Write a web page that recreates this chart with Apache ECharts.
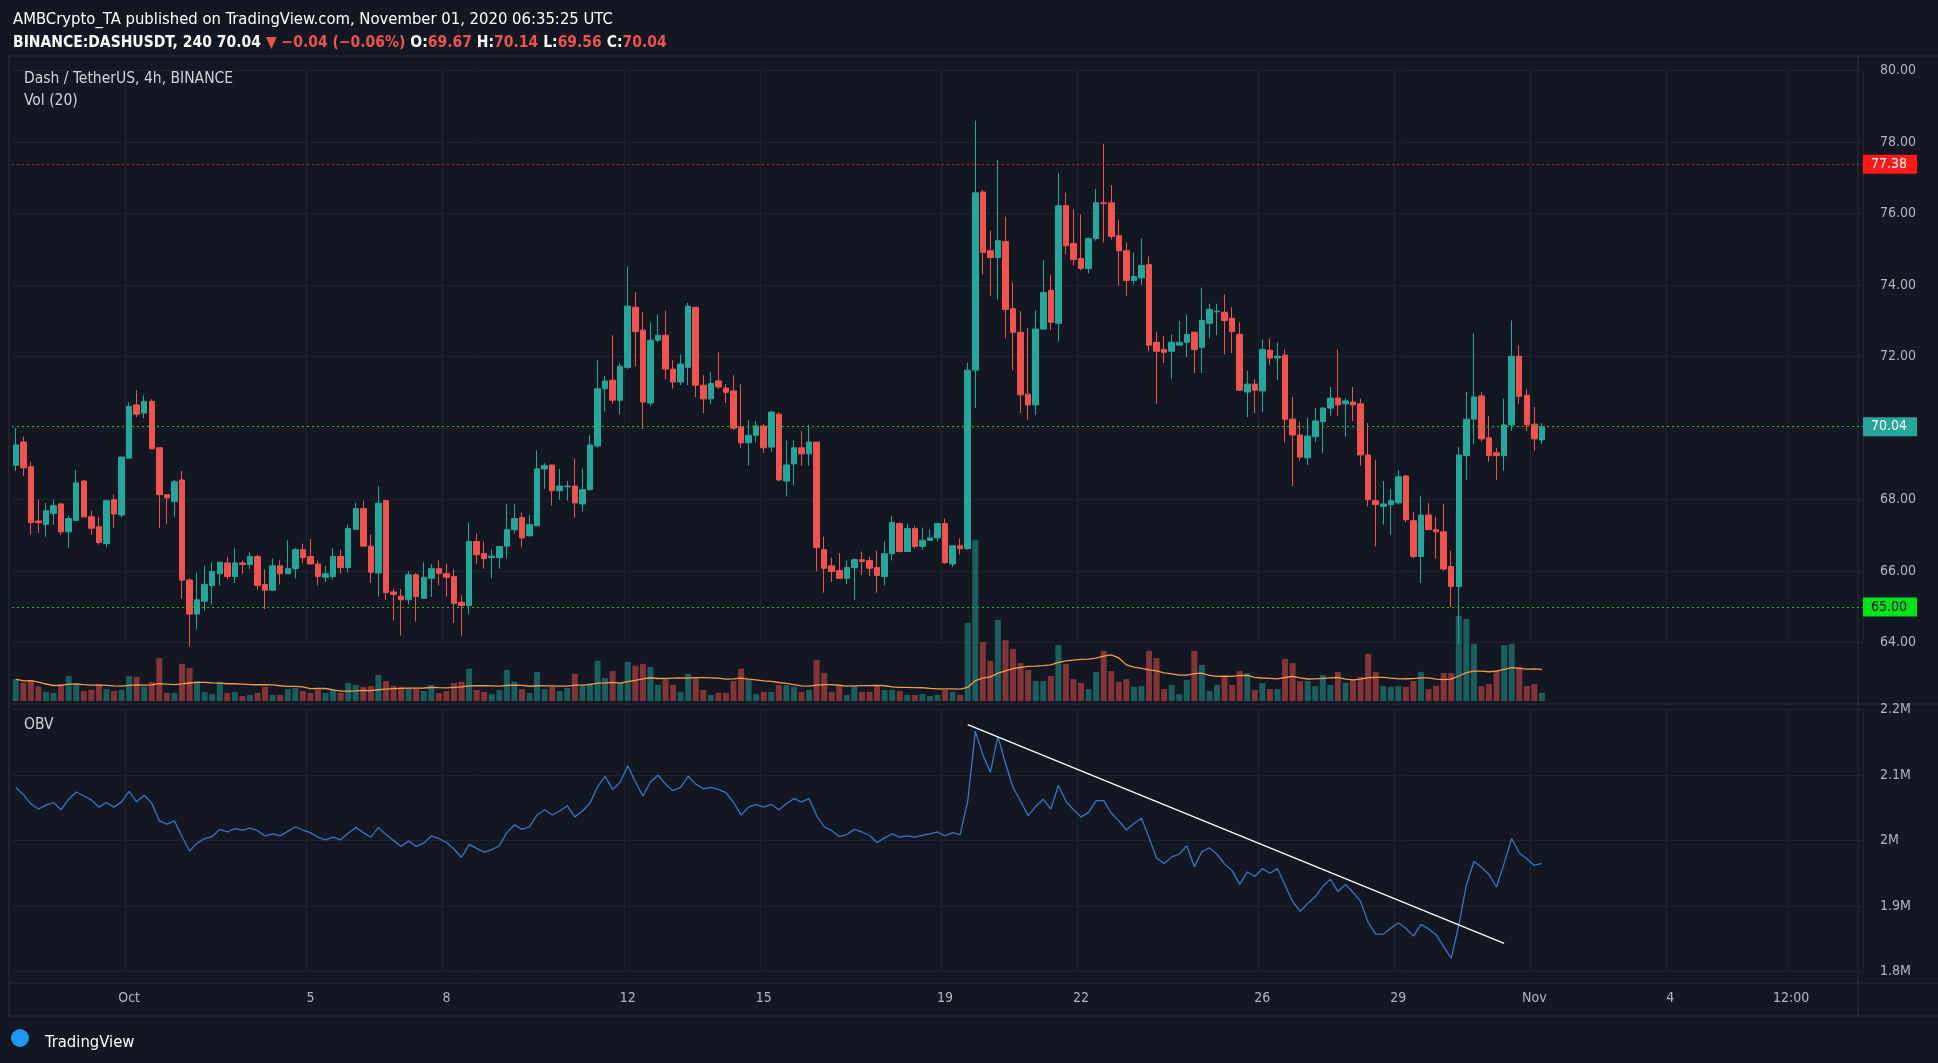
<!DOCTYPE html>
<html><head><meta charset="utf-8">
<script src="https://cdn.jsdelivr.net/npm/echarts@6/dist/echarts.min.js"></script>
<style>html,body{margin:0;padding:0;background:#131722;}#c{width:1938px;height:1063px;}</style>
</head><body><div id="c"></div>
<script>
// [open, close, low, high]
const candles = [
[68.96,69.53,68.8,70.0],[69.61,68.89,68.66,69.76],[68.92,67.36,67.02,69.06],[67.4,67.36,67.07,68.0],[67.31,67.69,66.96,67.91],
[67.61,67.83,67.29,68.0],[67.88,67.1,67.02,67.91],[67.1,67.47,66.65,67.55],[67.42,68.47,67.42,68.83],[68.52,67.52,67.5,68.55],
[67.52,67.2,67.02,67.69],[67.24,66.8,66.74,67.52],[66.77,67.97,66.67,68.0],[68.0,67.6,67.2,68.14],[67.57,69.19,67.5,69.19],
[69.16,70.61,69.16,70.72],[70.65,70.39,70.31,71.06],[70.42,70.75,70.28,70.92],[70.75,69.42,69.42,70.81],[69.45,68.14,67.2,69.45],
[68.14,68.05,67.33,68.14],[67.95,68.5,67.52,68.55],[68.55,65.75,65.23,68.8],[65.75,64.8,63.9,65.8],[64.8,65.2,64.38,65.96],
[65.16,65.63,64.89,66.15],[65.6,65.99,65.07,66.25],[65.93,66.25,65.6,66.25],[66.23,65.85,65.77,66.4],[65.85,66.23,65.67,66.63],
[66.23,66.19,65.93,66.3],[66.19,66.41,66.05,66.52],[66.41,65.6,65.47,66.46],[65.63,65.47,64.94,66.05],[65.47,66.15,65.47,66.35],
[66.15,65.93,65.63,66.3],[65.93,66.07,65.93,66.86],[66.07,66.6,65.8,66.65],[66.6,66.38,66.23,66.77],[66.41,66.2,66.2,66.9],
[66.2,65.85,65.6,66.3],[65.83,65.93,65.7,66.15],[65.85,66.41,65.77,66.65],[66.41,66.1,65.93,66.6],[66.1,67.19,65.97,67.3],
[67.17,67.75,67.17,67.91],[67.75,66.7,66.7,67.97],[66.7,65.97,65.67,67.02],[65.95,67.9,65.3,68.38],[67.97,65.4,65.2,68.0],
[65.42,65.35,64.62,65.5],[65.3,65.2,64.2,65.5],
[65.2,65.9,65.07,66.0],[65.9,65.29,64.6,65.95],[65.24,65.83,65.24,66.25],[65.8,66.07,65.28,66.2],[66.07,65.94,65.6,66.3],
[65.93,65.83,65.29,66.2],[65.85,65.1,64.55,66.05],[65.13,65.04,64.2,65.33],[65.04,66.83,64.8,67.36],[66.83,66.46,66.2,67.05],
[66.49,66.35,66.07,66.83],[66.38,66.42,65.8,66.6],[66.38,66.69,66.07,66.69],[66.7,67.16,66.36,67.87],[67.16,67.47,67.05,67.87],
[67.5,66.93,66.67,67.64],[66.99,67.3,66.96,67.57],[67.27,68.86,67.27,69.37],[68.86,68.95,68.3,69.02],[68.97,68.25,67.83,68.97],
[68.25,68.38,68.0,68.86],[68.36,68.38,67.97,68.52],[68.38,67.91,67.5,69.14],[67.88,68.28,67.66,68.86],[68.28,69.53,68.25,69.8],
[69.5,71.1,69.46,71.9],[71.1,71.32,70.47,71.46],[71.34,70.78,70.68,72.6],[70.78,71.73,70.39,71.82],[71.7,73.41,71.65,74.52],
[73.38,72.7,71.73,73.8],[72.74,70.73,69.97,73.24],[70.7,72.46,70.61,72.96],[72.46,72.6,72.4,73.18],[72.6,71.65,71.37,73.29],
[71.65,71.29,71.1,71.9],[71.29,71.79,71.2,72.06],[71.7,73.41,71.2,73.5],[73.38,71.2,70.87,73.38],[71.2,70.82,70.42,71.48],
[70.82,71.25,70.68,71.56],[71.32,71.15,71.1,72.12],[71.12,71.0,70.7,71.23],[71.04,70.0,69.95,71.48],[70.03,69.59,69.45,71.23],
[69.59,69.8,68.95,70.23],[69.8,70.06,69.6,70.2],[70.06,69.45,69.31,70.11],[69.47,70.45,69.33,70.47],[70.39,68.55,68.52,70.45],
[68.52,68.97,68.09,69.66],
[69.0,69.45,68.4,69.66],[69.45,69.28,68.95,69.92],[69.28,69.61,68.95,70.09],[69.61,66.66,66.0,69.61],[66.6,66.08,65.4,66.96],
[66.15,65.99,65.7,66.38],[66.02,65.8,65.8,66.51],[65.8,66.1,65.64,66.3],[66.1,66.32,65.2,66.36],[66.32,66.27,65.9,66.55],
[66.3,66.08,65.86,66.41],[66.1,65.88,65.4,66.57],[65.85,66.49,65.6,66.83],[66.49,67.36,66.3,67.55],[67.33,66.55,66.52,67.36],
[66.55,67.19,66.55,67.33],[67.19,66.69,66.63,67.27],[66.69,66.86,66.6,67.22],[66.86,66.93,66.86,67.17],[66.93,67.33,66.83,67.36],
[67.33,66.24,66.2,67.47],[66.2,66.71,66.12,66.71],[66.71,66.63,66.46,66.91],[66.63,71.62,66.6,71.82],[71.62,76.58,70.56,78.6],
[76.6,74.91,74.3,76.66],[74.96,74.77,73.7,75.52],[74.77,75.24,73.6,77.5],[75.22,73.32,72.51,75.91],[73.34,72.68,71.62,74.07],
[72.68,70.93,70.42,73.27],[70.95,70.65,70.23,72.79],[70.65,72.77,70.37,73.29],[72.77,73.79,72.77,74.69],[73.85,72.96,72.74,74.29],
[72.93,76.22,72.43,77.14],[76.22,75.1,74.86,76.58],[75.16,74.71,74.55,76.11],[74.74,74.46,74.41,75.97],[74.46,75.3,74.32,75.33],
[75.3,76.3,75.24,76.69],[76.3,76.28,75.19,77.95],[76.3,75.36,75.27,76.8],[75.38,74.96,73.98,75.83],[74.96,74.13,73.69,75.19],
[74.13,74.24,74.02,74.91],[74.2,74.55,74.02,75.3],[74.57,72.32,72.15,74.8],[72.4,72.15,70.68,72.7],[72.2,72.12,71.82,72.57],
[72.15,72.4,71.37,72.62],[72.32,72.4,72.32,73.0],
[72.4,72.62,71.99,73.17],[72.68,72.2,71.54,72.7],[72.26,73.01,71.54,73.93],[72.93,73.32,72.51,73.48],[73.25,73.27,72.6,73.48],
[73.24,73.01,72.06,73.74],[73.07,72.7,72.1,73.38],[72.62,71.06,71.04,72.96],[71.01,71.23,70.31,71.6],[71.23,71.06,70.42,71.37],
[71.04,72.2,70.45,72.48],[72.18,71.96,71.77,72.51],[71.96,72.01,71.35,72.4],[72.04,70.25,69.59,72.2],[70.25,69.81,68.38,70.87],
[69.81,69.19,69.09,70.18],[69.17,69.78,68.97,70.28],[69.76,70.2,69.61,70.56],[70.18,70.56,69.31,70.59],[70.56,70.84,70.34,71.15],
[70.84,70.65,70.34,72.2],[70.68,70.76,69.76,70.84],[70.73,70.65,70.2,71.15],[70.68,69.25,68.95,70.82],[69.25,68.0,67.81,70.14],
[67.97,67.86,66.69,69.11],[67.81,67.88,67.3,68.52],[67.86,67.97,67.02,68.3],[67.91,68.64,67.86,68.83],[68.66,67.44,67.36,68.69],
[67.41,66.41,66.36,67.66],[66.41,67.57,65.67,68.11],[67.57,67.16,67.16,67.91],[67.16,67.1,66.36,67.52],[67.1,66.06,66.01,67.88],
[66.13,65.57,65.0,66.57],[65.57,69.25,64.0,69.47],[69.23,70.25,68.55,71.01],[70.25,70.87,69.55,72.65],[70.9,69.7,69.62,71.01],
[69.73,69.23,69.06,70.34],[69.31,69.23,68.55,69.45],[69.23,70.09,68.81,70.82],[70.09,72.01,69.92,73.01],[72.01,70.89,70.68,72.32],
[70.92,70.09,69.92,71.09],[70.11,69.7,69.37,70.59],[69.67,70.04,69.56,70.14]
];
const volumes = [
57,48,55,38,24,21,44,65,47,26,29,44,31,26,29,65,63,38,50,112,21,21,97,86,52,24,18,50,21,24,13,16,21,37,16,16,31,34,26,21,29,21,29,21,47,42,37,39,68,52,39,37,
32,32,26,42,21,26,47,50,84,29,24,18,29,81,50,31,21,76,31,37,26,34,71,39,47,105,60,78,47,102,92,97,89,42,60,42,24,71,60,29,16,21,21,52,84,57,18,24,24,42,42,
37,24,29,107,73,24,39,16,39,24,24,39,29,29,26,16,16,18,13,16,29,24,16,204,421,154,105,212,159,136,99,81,52,52,65,146,97,57,47,31,76,131,78,50,57,37,39,131,112,31,
42,18,55,131,94,26,42,65,42,78,73,29,47,31,31,110,99,52,52,39,68,42,76,47,55,63,123,76,39,37,39,37,52,76,31,39,73,73,222,214,149,39,44,81,146,149,89,39,44,21
];
// OBV in thousands
const obv = [
2081,2070,2056,2048,2054,2058,2047,2063,2074,2068,2062,2051,2058,2051,2059,2075,2059,2069,2057,2030,
2025,2030,2006,1984,1996,2003,2006,2017,2013,2018,2016,2019,2015,2007,2010,2007,2014,2021,2016,2012,
2005,2001,2005,2001,2011,2020,2012,2005,2020,2009,2000,1991,1999,1991,1996,2007,2003,1997,1987,1974,
1994,1988,1982,1986,1992,2012,2024,2017,2021,2039,2047,2039,2045,2053,2036,2045,2057,2082,2098,2078,
2089,2114,2090,2068,2089,2100,2086,2076,2081,2098,2086,2079,2081,2078,2073,2058,2039,2051,2055,2051,
2055,2047,2056,2064,2059,2064,2038,2021,2015,2006,2009,2017,2013,2008,1997,2004,2010,2005,2007,2005,
2008,2010,2013,2007,2012,2009,2060,2167,2131,2104,2159,2118,2081,2060,2038,2052,2063,2048,2084,2060,
2047,2036,2043,2061,2061,2042,2030,2016,2026,2034,2004,1973,1965,1975,1979,1992,1960,1983,1989,1979,
1964,1954,1933,1952,1945,1957,1950,1957,1932,1907,1892,1904,1914,1930,1941,1922,1933,1921,1907,1875,
1857,1857,1866,1874,1866,1854,1872,1865,1856,1838,1820,1871,1932,1968,1959,1948,1929,1965,2003,1981,
1972,1962,1965
];
const trendPts = [[126, 2177], [197, 1843]];
const tickIdx = [15, 39, 57, 81, 99, 123, 141, 165, 183, 201, 219, 235];
const tickText = ['Oct', '5', '8', '12', '15', '19', '22', '26', '29', 'Nov', '4', '12:00'];
const levels = {resistance: 77.38, last: 70.04, support: 65.00};
const totalSlots = 245;

const UP = '#26a69a', DOWN = '#ef5350';
const cats = []; for (let i = 0; i < totalSlots; i++) cats.push(String(i));
const volData = volumes.map((v, i) => ({value: v, itemStyle: {color: candles[i][1] >= candles[i][0] ? 'rgba(38,166,154,0.5)' : 'rgba(239,83,80,0.5)'}}));
const volMA = volumes.map((v, i) => { const s = volumes.slice(Math.max(0, i - 19), i + 1); return +(s.reduce((a, b) => a + b, 0) / s.length).toFixed(1); });
const tickMap = {}; tickIdx.forEach((t, k) => tickMap[t] = tickText[k]);
const isTick = (i) => tickMap[i] !== undefined;
const FONT = 'Liberation Sans Narrow, DejaVu Sans Condensed, Roboto, sans-serif';
const gridLine = {show: true, lineStyle: {color: '#1f2330', width: 1}};

function xAxis(gi, showLabel) {
  return {type: 'category', gridIndex: gi, data: cats, boundaryGap: true,
    axisLine: {show: false}, axisTick: {show: false},
    axisLabel: {show: showLabel, interval: (i) => isTick(i), formatter: (v) => tickMap[+v] || '', color: '#b2b5be', fontSize: 14, fontFamily: FONT, margin: 20},
    splitLine: {show: gi !== 1, interval: (i) => isTick(i), lineStyle: {color: '#1f2330'}}};
}
const chart = echarts.init(document.getElementById('c'));
const W = 1938;
function hl(x1, y1, x2, y2) { return {type: 'line', shape: {x1, y1, x2, y2}, style: {stroke: '#2a2e39', lineWidth: 1}, silent: true}; }
chart.setOption({
  backgroundColor: '#131722', animation: false,
  title: [
    {text: 'AMBCrypto_TA published on TradingView.com, November 01, 2020 06:35:25 UTC', left: 8, top: 6, textStyle: {color: '#ffffff', fontSize: 16.5, fontWeight: 'normal', fontFamily: FONT}},
    {text: '{b|BINANCE:DASHUSDT, 240} {w|70.04} {r|▼ −0.04 (−0.06%)} {w|O:}{r|69.67} {w|H:}{r|70.14} {w|L:}{r|69.56} {w|C:}{r|70.04}', left: 8, top: 29,
      textStyle: {rich: {b: {color: '#fff', fontWeight: 'bold', fontSize: 15.5, fontFamily: FONT}, w: {color: '#fff', fontSize: 15.5, fontFamily: FONT}, r: {color: '#ef5350', fontSize: 15.5, fontFamily: FONT}}}},
    {text: 'Dash / TetherUS, 4h, BINANCE', left: 19, top: 66, textStyle: {color: '#d1d4dc', fontSize: 15.5, fontWeight: 'normal', fontFamily: FONT}},
    {text: 'Vol (20)', left: 19, top: 88, textStyle: {color: '#d1d4dc', fontSize: 15.5, fontWeight: 'normal', fontFamily: FONT}},
    {text: 'OBV', left: 19, top: 712, textStyle: {color: '#d1d4dc', fontSize: 15.5, fontWeight: 'normal', fontFamily: FONT}},
    {text: 'TradingView', left: 40, top: 1029, textStyle: {color: '#ffffff', fontSize: 16.5, fontWeight: 'normal', fontFamily: FONT}}
  ],
  graphic: [
    hl(9, 56, W, 56), hl(9, 704, W, 704), hl(9, 983, W, 983), hl(9, 1016, W, 1016),
    hl(9, 56, 9, 1016), hl(1858, 56, 1858, 1016),
    {type: 'circle', shape: {cx: 20, cy: 1038, r: 9}, style: {fill: '#2196f3'}}
  ],
  grid: [
    {left: 12, right: 75, top: 70.5, bottom: 420.3},
    {left: 12, right: 75, top: 521, bottom: 362},
    {left: 12, right: 75, top: 709.5, bottom: 91.5}
  ],
  xAxis: [xAxis(0, false), xAxis(1, false), xAxis(2, true)],
  yAxis: [
    {type: 'value', gridIndex: 0, position: 'right', min: 64, max: 80, interval: 2,
      axisLine: {show: false}, axisTick: {show: false}, splitLine: gridLine,
      axisLabel: {color: '#b2b5be', fontSize: 14, fontFamily: FONT, margin: 17, formatter: (v) => v.toFixed(2)}},
    {type: 'value', gridIndex: 1, min: 0, max: 470, show: false},
    {type: 'value', gridIndex: 2, position: 'right', min: 1800, max: 2200, interval: 100,
      axisLine: {show: false}, axisTick: {show: false}, splitLine: gridLine,
      axisLabel: {color: '#b2b5be', fontSize: 14, fontFamily: FONT, margin: 17, formatter: (v) => (v / 1000) + 'M'}}
  ],
  series: [
    {type: 'bar', xAxisIndex: 1, yAxisIndex: 1, data: volData, barWidth: 6, z: 1},
    {type: 'line', xAxisIndex: 1, yAxisIndex: 1, data: volMA, showSymbol: false, lineStyle: {color: '#f59b4e', width: 1.3}, z: 2},
    {type: 'candlestick', xAxisIndex: 0, yAxisIndex: 0, data: candles, barWidth: 6, clip: false, z: 3,
      itemStyle: {color: UP, color0: DOWN, borderColor: UP, borderColor0: DOWN, borderWidth: 1},
      markLine: {symbol: 'none', silent: true, animation: false,
        data: [
          {yAxis: levels.resistance, lineStyle: {color: '#e01b1b', type: [2, 3], width: 1},
            label: {formatter: levels.resistance.toFixed(2), backgroundColor: '#ff1a1a', color: '#fff'}},
          {yAxis: levels.last, lineStyle: {color: '#22c41a', type: [2, 3], width: 1},
            label: {formatter: levels.last.toFixed(2), backgroundColor: '#26a69a', color: '#fff'}},
          {yAxis: levels.support, lineStyle: {color: '#22c41a', type: [2, 3], width: 1},
            label: {formatter: levels.support.toFixed(2), backgroundColor: '#00e21a', color: '#131722'}}
        ],
        label: {position: 'end', distance: 0, fontSize: 14, fontFamily: FONT, padding: [3, 10, 2, 8]}}},
    {type: 'line', xAxisIndex: 2, yAxisIndex: 2, data: obv, showSymbol: false, lineStyle: {color: '#3d74c0', width: 1.3}},
    {type: 'line', xAxisIndex: 2, yAxisIndex: 2, data: trendPts, showSymbol: false, lineStyle: {color: '#ffffff', width: 1.3}}
  ]
});
</script></body></html>
